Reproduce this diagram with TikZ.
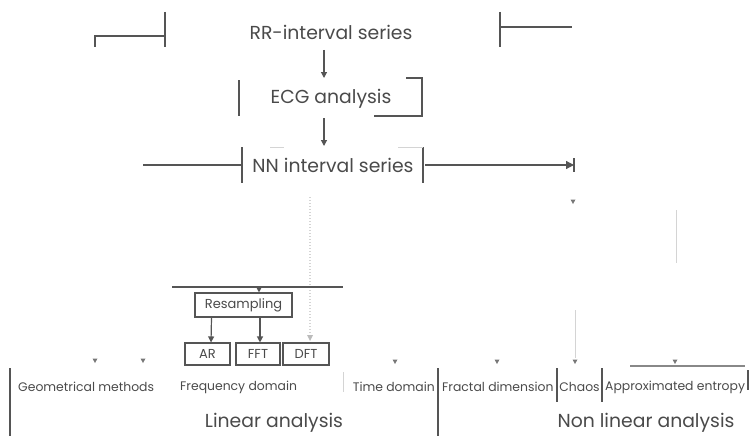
\documentclass[tikz,border=0pt]{standalone}
\usepackage{fontspec}
\setmainfont{Poppins}
\usetikzlibrary{arrows.meta}
\definecolor{ink}{HTML}{4A4A4A}
\definecolor{ln}{HTML}{555555}
\definecolor{faint}{HTML}{D4D4D4}
\tikzset{
  big/.style={text=ink, font=\fontsize{18.8}{22}\selectfont, inner sep=0pt},
  small/.style={text=ink, font=\fontsize{12.4}{15}\selectfont, inner sep=0pt},
  boxy/.style={draw=ln, line width=1.1pt, text=ink, font=\fontsize{13}{15}\selectfont, inner sep=0pt},
  wire/.style={draw=ln, line width=1.2pt},
  faintwire/.style={draw=faint, line width=1pt},
  arr/.style={wire, -{Triangle[length=6pt,width=6pt]}},
  tipmark/.style={fill=ln!80},
}
\newcommand\tinytip[2]{\fill[tipmark] (#1-2.5,#2-3.5) -- (#1+2.5,#2-3.5) -- (#1,#2+1) -- cycle;}
\begin{document}
\begin{tikzpicture}[x=1pt,y=-1pt]
\useasboundingbox (0,0) rectangle (751,436);
% main texts
\node[big] (rr) at (331,32) {RR-interval series};
\node[big] (ecg) at (331,99) {ECG analysis};
\node[big] (nn) at (333,165) {NN interval series};
% top brackets
\draw[wire] (95,47) -- (95,36) -- (165,36);
\draw[wire] (165,12) -- (165,47);
\draw[wire] (500,12) -- (500,47);
\draw[wire] (500,27) -- (572,27);
% ecg bracket
\draw[wire] (239,80) -- (239,116);
\draw[wire] (406,78) -- (422,78) -- (422,116) -- (374,116);
% nn bracket
\draw[wire] (242,147) -- (242,183);
\draw[wire] (423,147) -- (423,183);
\draw[faintwire] (270,147) -- (284,147);
\draw[faintwire] (398,147) -- (423,147);
% arrows in chain
\coordinate (a1s) at (324,50); \coordinate (a1e) at (324,78);
\coordinate (a2s) at (324,118); \coordinate (a2e) at (324,146);
\draw[arr] (a1s) -- (a1e);
\draw[arr] (a2s) -- (a2e);
\coordinate (nl) at (143,165);
\coordinate (nr) at (574,165);
\draw[wire] (nl) -- (242,165);
\draw[wire, -{Triangle[length=8pt,width=8pt]}] (425,165) -- (nr);
\draw[wire] (nr) ++(0,-7) -- ++(0,14);
% faint connectors
\draw[faintwire, dotted, line width=1.2pt] (310,197) -- (310,336);
\draw[faintwire] (676,210) -- (676,263);
\draw[faintwire] (575,310) -- (575,358);
\tinytip{573}{203}
% linear branch
\draw[wire] (172,287) -- (343,287);
\node[boxy, minimum width=97pt, minimum height=24pt] (res) at (243.5,305) {Resampling};
\draw[arr] (259,287) -- (res.north -| 259,0);
\node[boxy, minimum width=45pt, minimum height=22pt] (ar) at (207.5,354) {AR};
\node[boxy, minimum width=44pt, minimum height=22pt] (fft) at (258,354) {FFT};
\node[boxy, minimum width=46pt, minimum height=22pt] (dft) at (306,354) {DFT};
\draw[arr] (res.south -| ar) ++(4,0) -- (ar.north -| 211,0);
\draw[arr] (res.south -| fft) ++(2,0) -- (fft.north -| 260,0);
\fill[faint!80!ln] (307,335) -- (313,335) -- (310,341) -- cycle;
% small marks above bottom labels
\tinytip{95}{362}
\tinytip{143}{362}
\tinytip{395}{363}
\tinytip{497}{363}
\tinytip{575}{363}
\tinytip{675}{363}
% bottom labels
\node[small, anchor=west] (geo) at (18,387) {Geometrical methods};
\node[small, anchor=west] (freq) at (180,387) {Frequency domain};
\node[small, anchor=east] (time) at (435,387) {Time domain};
\node[small, anchor=west] (frac) at (442,387) {Fractal dimension};
\node[small] (chaos) at (579.5,387) {Chaos};
\node[small, anchor=west] (apen) at (605,387) {Approximated entropy};
\draw[wire] (10,368) -- (10,436);
\draw[faintwire] (343,372) -- (343,392);
\draw[wire] (438,368) -- (438,436);
\draw[wire] (557,368) -- (557,402);
\draw[wire] (602,368) -- (602,402);
\draw[wire] (748,370) -- (748,390);
\draw[wire, ln!70] (630,366) -- (745,366);
\node[big] (lin) at (274,423) {Linear analysis};
\node[big] (nonlin) at (646,423) {Non linear analysis};
\end{tikzpicture}
\end{document}
